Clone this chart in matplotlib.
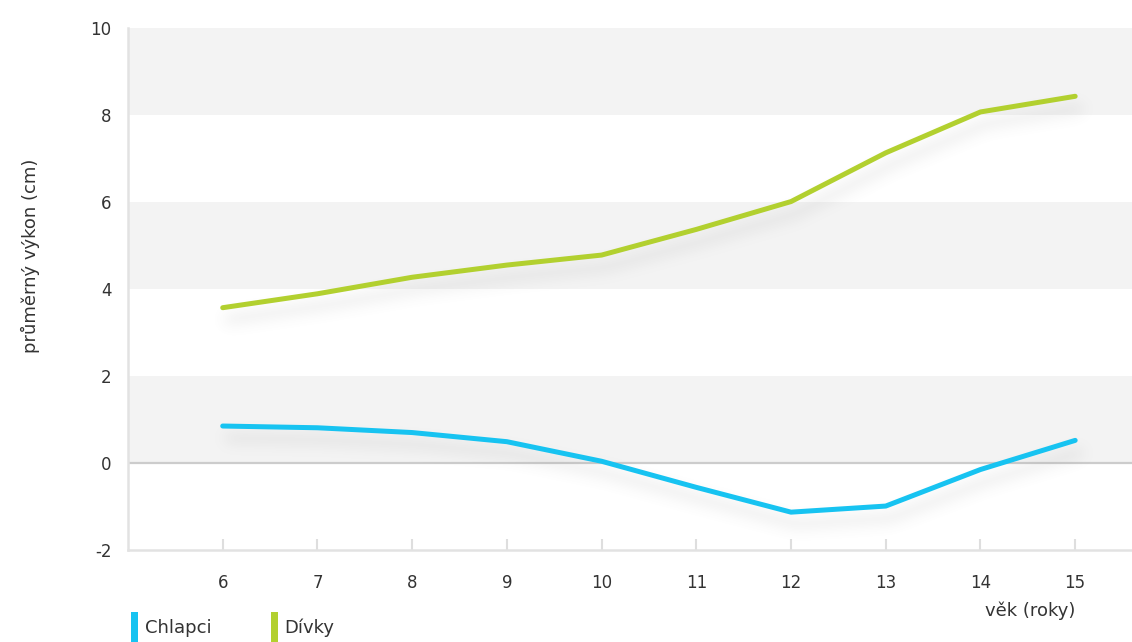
import matplotlib
matplotlib.use("Agg")
import matplotlib.pyplot as plt
from matplotlib.patches import Patch
import numpy as np

ages = [6, 7, 8, 9, 10, 11, 12, 13, 14, 15]
boys = [0.85, 0.81, 0.70, 0.49, 0.04, -0.56, -1.13, -0.99, -0.15, 0.52]
girls = [3.57, 3.89, 4.27, 4.55, 4.78, 5.37, 6.01, 7.13, 8.07, 8.43]
series_labels = ["Chlapci", "Dívky"]
y_ticks = [-2, 0, 2, 4, 6, 8, 10]

BLUE = "#17c3f1"
GREEN = "#b2d02f"
TEXT = "#333333"


def gaussian_blur(a, sigma):
    r = int(3 * sigma)
    k = np.exp(-0.5 * (np.arange(-r, r + 1) / sigma) ** 2)
    k /= k.sum()
    out = np.zeros_like(a)
    for i, w in enumerate(k):
        out += w * np.roll(a, i - r, axis=0)
    out2 = np.zeros_like(a)
    for i, w in enumerate(k):
        out2 += w * np.roll(out, i - r, axis=1)
    return out2


def shadow_filter(im, dpi, dx=5, dy=12, sigma=7.0, strength=0.26):
    pad = 50
    a = np.pad(im, ((pad, pad), (pad, pad), (0, 0)))
    alpha = gaussian_blur(a[..., 3], sigma)
    alpha = np.roll(np.roll(alpha, dy, axis=0), dx, axis=1)
    out = np.zeros_like(a)
    out[..., :3] = 0.5
    out[..., 3] = np.clip(alpha * strength, 0, 1)
    return out, -pad, -pad


def main():
    plt.rcParams["font.family"] = ["DejaVu Sans"]
    plt.rcParams["axes.unicode_minus"] = False
    fig = plt.figure(figsize=(11.32, 6.42), dpi=100)
    ax = fig.add_axes([128 / 1132, 1 - 550 / 642, 1 - 128 / 1132, (550 - 28) / 642])

    # alternating bands
    for lo in (0, 4, 8):
        ax.axhspan(lo, lo + 2, color="#f3f3f3", zorder=0, lw=0)
    ax.axhline(0, color="#cccccc", lw=1.6, zorder=1)

    for vals, col in ((boys, BLUE), (girls, GREEN)):
        sh, = ax.plot(ages, vals, color="black", lw=3.6, zorder=2,
                      solid_capstyle="round", solid_joinstyle="round")
        sh.set_agg_filter(shadow_filter)
        sh.set_rasterized(True)
        ax.plot(ages, vals, color=col, lw=3.6, zorder=3,
                solid_capstyle="round", solid_joinstyle="round")

    ax.set_xlim(5.0, 15.6)
    ax.set_ylim(-2, 10)
    ax.set_xticks(ages)
    ax.set_yticks(y_ticks)
    ax.tick_params(axis="x", direction="in", length=8, width=1.5,
                   color="#dedede", pad=17, labelsize=12, labelcolor=TEXT)
    ax.tick_params(axis="y", length=0, pad=12, labelsize=12, labelcolor=TEXT)
    for s in ("top", "right"):
        ax.spines[s].set_visible(False)
    for s in ("left", "bottom"):
        ax.spines[s].set_color("#e2e2e2")
        ax.spines[s].set_linewidth(1.8)

    fig.text(30 / 1132, 1 - 256 / 642, "průměrný výkon (cm)", rotation=90,
             ha="center", va="center", fontsize=13, color=TEXT)
    fig.text(1030 / 1132, 1 - 611 / 642, "věk (roky)", ha="center",
             va="center", fontsize=13, color=TEXT)

    handles = [Patch(facecolor=BLUE, edgecolor="none"),
               Patch(facecolor=GREEN, edgecolor="none")]
    fig.legend(handles, series_labels, loc="upper left",
               bbox_to_anchor=(131 / 1132, 1 - 612 / 642), ncol=2,
               frameon=False, fontsize=13, handlelength=0.4,
               handleheight=2.3, handletextpad=0.35, columnspacing=3.3,
               borderpad=0, borderaxespad=0, labelcolor=TEXT)

    fig.savefig("out.png", dpi=100)


if __name__ == "__main__":
    main()
